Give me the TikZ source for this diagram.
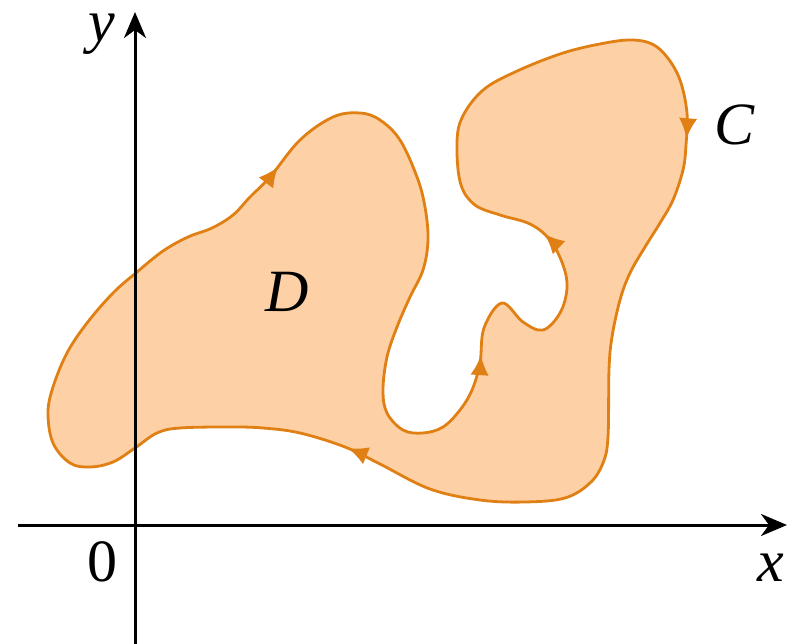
\documentclass[tikz,border=0pt]{standalone}
\usepackage{fontspec}
\setmainfont{Liberation Serif}
\usetikzlibrary{arrows.meta, decorations.markings}

\definecolor{regionfill}{RGB}{253,208,165}
\definecolor{curveline}{RGB}{224,128,20}

\begin{document}
\begin{tikzpicture}[x=1pt, y=-1pt,
    every node/.style={font=\fontsize{60}{72}\selectfont, inner sep=0pt},
    axis/.style={line width=3pt, -{Stealth[length=26pt,width=22pt,inset=8pt]}},
    flowtip/.style={decoration={markings,
        mark=at position 0.035 with {\arrow[curveline]{Latex[length=20pt,width=18.4pt]}},
        mark=at position 0.3015 with {\arrow[curveline]{Latex[length=20pt,width=18.4pt]}},
        mark=at position 0.526 with {\arrow[curveline]{Latex[length=20pt,width=18.4pt]}},
        mark=at position 0.6103 with {\arrow[curveline]{Latex[length=20pt,width=18.4pt]}},
        mark=at position 0.797 with {\arrow[curveline]{Latex[length=20pt,width=18.4pt]}}},
        postaction=decorate}]
    \useasboundingbox (0,0) rectangle (796,644);

    % Region D and its boundary C
    \path[fill=regionfill, draw=curveline, line width=2.8pt, flowtip]
        plot[smooth cycle, tension=0.6] coordinates {
        (480,500) (430,489) (380,464) (345,447) (300,433) (263,428) (230,427)
        (180,428) (157,433) (135,448) (113,462) (90,467) (70,463) (53,443)
        (48,413) (53,387) (67,353) (87,323) (113,293) (137,272) (163,251)
        (188,237) (212,228) (233,215) (250,197) (270,177) (300,140) (333,117)
        (360,113) (380,120) (400,140) (417,177) (425,207) (428,240) (423,270)
        (410,297) (397,327) (387,357) (383,390) (387,413) (403,430) (423,433)
        (443,427) (460,410) (472,390) (480,363) (484,328) (502,303) (523,322)
        (543,330) (560,313) (567,288) (563,265) (550,240) (530,224) (500,215)
        (475,205) (461,185) (457,150) (461,120) (482,91) (515,72) (563,53)
        (605,43) (632,40) (652,44) (667,57) (680,80) (687,113) (686,145)
        (683,170) (673,200) (660,223) (645,247) (630,273) (620,300) (612,337)
        (609,370) (608,437) (603,463) (590,483) (565,498) (525,502)};

    % Axes
    \coordinate (xstart) at (18,525);
    \coordinate (xend) at (787,525);
    \coordinate (ystart) at (135,644);
    \coordinate (yend) at (135,12);
    \draw[axis] (xstart) -- (xend);
    \draw[axis] (ystart) -- (yend);

    % Labels
    \node (ylabel) at (102,34) {\textit{y}};
    \node (xlabel) at (771,568) {\textit{x}};
    \node (origin) at (102,562) {0};
    \node (labelC) at (735,125) {\textit{C}};
    \node (labelD) at (287,292) {\textit{D}};
\end{tikzpicture}
\end{document}
